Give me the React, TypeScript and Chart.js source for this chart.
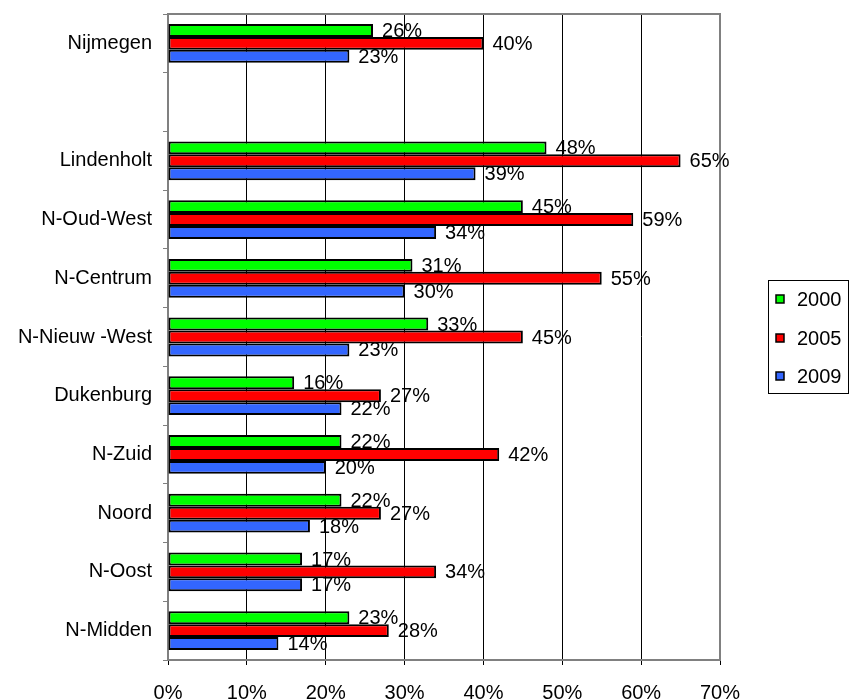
import React, { useEffect, useRef } from "react";
import { Chart, registerables } from "chart.js";

Chart.register(...registerables);

const categories = [
  "Nijmegen",
  "",
  "Lindenholt",
  "N-Oud-West",
  "N-Centrum",
  "N-Nieuw -West",
  "Dukenburg",
  "N-Zuid",
  "Noord",
  "N-Oost",
  "N-Midden",
];
const series2000 = [26, null, 48, 45, 31, 33, 16, 22, 22, 17, 23];
const series2005 = [40, null, 65, 59, 55, 45, 27, 42, 27, 34, 28];
const series2009 = [23, null, 39, 34, 30, 23, 22, 20, 18, 17, 14];
const seriesNames = ["2000", "2005", "2009"];
const seriesColors = ["#00FF00", "#FF0000", "#3366FF"];
const xTicks = [0, 10, 20, 30, 40, 50, 60, 70];

const FONT = '"Liberation Sans", Arial, sans-serif';

export default function App() {
  const ref = useRef<HTMLCanvasElement | null>(null);

  useEffect(() => {
    if (!ref.current) return;
    const allSeries = [series2000, series2005, series2009];

    const framePlugin = {
      id: "frame",
      beforeDatasetsDraw(chart: any) {
        const { ctx, chartArea } = chart;
        ctx.save();
        ctx.strokeStyle = "#808080";
        ctx.lineWidth = 2;
        ctx.strokeRect(chartArea.left, chartArea.top, chartArea.right - chartArea.left, chartArea.bottom - chartArea.top);
        ctx.restore();
      },
    };

    const labelPlugin = {
      id: "valueLabels",
      afterDatasetsDraw(chart: any) {
        const { ctx } = chart;
        ctx.save();
        ctx.font = `20px ${FONT}`;
        ctx.fillStyle = "#000";
        ctx.textAlign = "left";
        ctx.textBaseline = "middle";
        chart.data.datasets.forEach((ds: any, di: number) => {
          const meta = chart.getDatasetMeta(di);
          meta.data.forEach((el: any, i: number) => {
            const v = ds.data[i];
            if (v === null || v === undefined) return;
            ctx.fillText(`${v}%`, el.x + 9, el.y + 1);
          });
        });
        ctx.restore();
      },
    };

    const legendPlugin = {
      id: "customLegend",
      afterDraw(chart: any) {
        const { ctx } = chart;
        ctx.save();
        ctx.strokeStyle = "#000";
        ctx.lineWidth = 1;
        ctx.strokeRect(768.5, 280.5, 80, 113);
        ctx.font = `20px ${FONT}`;
        ctx.textBaseline = "middle";
        ctx.textAlign = "left";
        const ys = [299, 338, 376];
        seriesNames.forEach((name, i) => {
          ctx.fillStyle = seriesColors[i];
          ctx.fillRect(776, ys[i] - 4, 8, 8);
          ctx.strokeStyle = "#000";
          ctx.lineWidth = 1.5;
          ctx.strokeRect(776, ys[i] - 4, 8, 8);
          ctx.fillStyle = "#000";
          ctx.fillText(name, 797, ys[i] + 1);
        });
        ctx.restore();
      },
    };

    const chart = new Chart(ref.current, {
      type: "bar",
      data: {
        labels: categories,
        datasets: allSeries.map((d, i) => ({
          label: seriesNames[i],
          data: d,
          backgroundColor: seriesColors[i],
          borderColor: "#000",
          borderWidth: 2,
          borderSkipped: false,
          categoryPercentage: 0.66,
          barPercentage: 1.0,
        })),
      },
      options: {
        indexAxis: "y",
        responsive: false,
        animation: false,
        maintainAspectRatio: false,
        layout: { padding: { top: 14, right: 129, left: 0, bottom: 0 } },
        plugins: {
          legend: { display: false },
          tooltip: { enabled: false },
          title: { display: false },
        },
        scales: {
          x: {
            min: 0,
            max: 70,
            afterBuildTicks: (axis: any) => {
              axis.ticks = xTicks.map((v) => ({ value: v }));
            },
            afterFit: (axis: any) => {
              axis.height = 39;
              axis.paddingLeft = 0;
              axis.paddingRight = 0;
            },
            grid: {
              color: "#000",
              lineWidth: 1,
              drawTicks: true,
              tickLength: 5,
              tickColor: "#000",
            },
            border: { display: true, color: "#808080", width: 2 },
            ticks: {
              color: "#000",
              font: { family: FONT, size: 20 },
              padding: 16,
              callback: (v: any) => `${v}%`,
              maxRotation: 0,
              autoSkip: false,
            },
          },
          y: {
            afterFit: (axis: any) => {
              axis.width = 168;
              axis.paddingTop = 0;
              axis.paddingBottom = 0;
            },
            grid: {
              drawOnChartArea: false,
              drawTicks: true,
              tickLength: 5,
              tickColor: "#808080",
              offset: true,
            },
            border: { display: true, color: "#808080", width: 2 },
            ticks: {
              color: "#000",
              font: { family: FONT, size: 20 },
              padding: 11,
              autoSkip: false,
            },
          },
        },
      },
      plugins: [framePlugin, labelPlugin, legendPlugin],
    });

    return () => chart.destroy();
  }, []);

  return (
    <div style={{ position: "fixed", left: 0, top: 0, width: 849, height: 699, background: "#fff" }}>
      <canvas ref={ref} width={849} height={699} style={{ width: 849, height: 699, display: "block" }} />
    </div>
  );
}
